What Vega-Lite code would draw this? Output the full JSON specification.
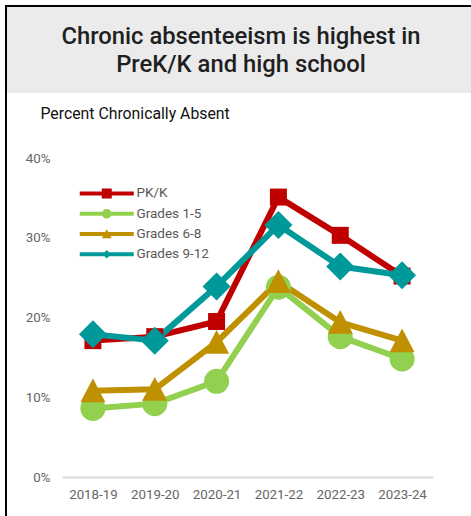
{
  "$schema": "https://vega.github.io/schema/vega-lite/v6.json",
  "padding": {"left": 5, "top": 5, "right": 0, "bottom": 0},
  "background": "white",
  "spacing": 0,
  "config": {"view": {"stroke": null}, "font": "Roboto", "concat": {"spacing": 0}},
  "resolve": {"legend": {"color": "independent"}},
  "vconcat": [
    {
      "width": 466, "height": 2,
      "view": {"fill": "black", "stroke": null},
      "data": {"values": [{"a": 1}]},
      "mark": {"type": "point", "opacity": 0, "size": 0}
    },
    {
      "spacing": 0,
      "resolve": {"legend": {"color": "independent"}},
      "hconcat": [
        {
          "width": 2, "height": 509,
          "view": {"fill": "black", "stroke": null},
          "data": {"values": [{"a": 1}]},
          "mark": {"type": "point", "opacity": 0, "size": 0}
        },
        {
          "spacing": 12,
          "resolve": {"legend": {"color": "independent"}},
          "vconcat": [
            {
              "width": 464, "height": 86,
              "view": {"fill": "#ebebeb", "stroke": null},
              "data": {"values": [{"a": 1}]},
              "mark": {
                "type": "text",
                "text": ["Chronic absenteeism is highest in", "PreK/K and high school"],
                "font": "Roboto", "fontSize": 23.8, "fontWeight": 500,
                "lineHeight": 28, "align": "center", "baseline": "middle", "dy": -13, "dx": 2,
                "color": "#1f1f1f"
              }
            },
            {
              "width": 464, "height": 319,
              "data": {"values": [
                {"year": "2018-19", "series": "PK/K", "value": 0.171},
                {"year": "2019-20", "series": "PK/K", "value": 0.176},
                {"year": "2020-21", "series": "PK/K", "value": 0.195},
                {"year": "2021-22", "series": "PK/K", "value": 0.351},
                {"year": "2022-23", "series": "PK/K", "value": 0.303},
                {"year": "2023-24", "series": "PK/K", "value": 0.252},
                {"year": "2018-19", "series": "Grades 1-5", "value": 0.086},
                {"year": "2019-20", "series": "Grades 1-5", "value": 0.092},
                {"year": "2020-21", "series": "Grades 1-5", "value": 0.120},
                {"year": "2021-22", "series": "Grades 1-5", "value": 0.238},
                {"year": "2022-23", "series": "Grades 1-5", "value": 0.176},
                {"year": "2023-24", "series": "Grades 1-5", "value": 0.148},
                {"year": "2018-19", "series": "Grades 6-8", "value": 0.108},
                {"year": "2019-20", "series": "Grades 6-8", "value": 0.110},
                {"year": "2020-21", "series": "Grades 6-8", "value": 0.169},
                {"year": "2021-22", "series": "Grades 6-8", "value": 0.245},
                {"year": "2022-23", "series": "Grades 6-8", "value": 0.194},
                {"year": "2023-24", "series": "Grades 6-8", "value": 0.171},
                {"year": "2018-19", "series": "Grades 9-12", "value": 0.179},
                {"year": "2019-20", "series": "Grades 9-12", "value": 0.171},
                {"year": "2020-21", "series": "Grades 9-12", "value": 0.239},
                {"year": "2021-22", "series": "Grades 9-12", "value": 0.316},
                {"year": "2022-23", "series": "Grades 9-12", "value": 0.264},
                {"year": "2023-24", "series": "Grades 9-12", "value": 0.253}
              ]},
              "encoding": {
                "x": {
                  "field": "year", "type": "ordinal",
                  "scale": {"type": "point", "padding": 0.5, "range": [55, 426]},
                  "axis": {
                    "labelAngle": 0, "ticks": false,
                    "domainColor": "#d9d9d9", "domainWidth": 2,
                    "labelPadding": 10, "labelFontSize": 13.3, "labelColor": "#666666",
                    "labelFont": "Roboto", "title": null
                  }
                },
                "y": {
                  "field": "value", "type": "quantitative",
                  "scale": {"domain": [0, 0.4], "nice": false},
                  "axis": {
                    "offset": -55,
                    "values": [0, 0.1, 0.2, 0.3, 0.4], "format": ".0%",
                    "domain": false, "ticks": false, "grid": false,
                    "labelPadding": 12, "labelFontSize": 13.3, "labelColor": "#666666",
                    "labelFont": "Roboto",
                    "title": "Percent Chronically Absent", "titleAngle": 0,
                    "titleAlign": "left", "titleBaseline": "alphabetic",
                    "titleX": -22, "titleY": -40, "titleFontSize": 15.8,
                    "titleFontWeight": "normal", "titleColor": "#111111", "titleFont": "Roboto"
                  }
                }
              },
              "layer": [
                {
                  "mark": {"type": "line", "strokeWidth": 6, "strokeCap": "round", "strokeJoin": "round"},
                  "encoding": {
                    "color": {
                      "field": "series", "type": "nominal",
                      "scale": {
                        "domain": ["PK/K", "Grades 1-5", "Grades 6-8", "Grades 9-12"],
                        "range": ["#c00000", "#92d050", "#bf9000", "#009999"]
                      },
                      "legend": {
                        "orient": "none", "legendX": 93, "legendY": 28.7,
                        "title": null, "padding": 0, "labelOffset": 23, "rowPadding": 5.3,
                        "symbolSize": 100, "labelFontSize": 13.5, "labelColor": "#595959",
                        "labelFont": "Roboto",
                        "encode": {
                          "symbols": {
                            "update": {
                              "shape": {"signal": "datum.value === 'PK/K' ? 'M-5.4,-0.4H5.4V0.4H-5.4Z M-1,-1H1V1H-1Z' : datum.value === 'Grades 1-5' ? 'M-5.4,-0.4H5.4V0.4H-5.4Z M-0.95,0A0.95,0.95 0 1,1 0.95,0A0.95,0.95 0 1,1 -0.95,0Z' : datum.value === 'Grades 6-8' ? 'M-5.4,-0.4H5.4V0.4H-5.4Z M0,-0.95L1,0.85L-1,0.85Z' : 'M-5.4,-0.4H5.4V0.4H-5.4Z M0,-0.85L0.85,0L0,0.85L-0.85,0Z'"},
                              "fill": {"signal": "datum.value === 'PK/K' ? '#c00000' : datum.value === 'Grades 1-5' ? '#92d050' : datum.value === 'Grades 6-8' ? '#bf9000' : '#009999'"},
                              "stroke": {"value": "transparent"},
                              "strokeWidth": {"value": 0},
                              "opacity": {"value": 1},
                              "fillOpacity": {"value": 1},
                              "size": {"value": 100}
                            }
                          }
                        }
                      }
                    }
                  }
                },
                {
                  "mark": {"type": "point", "filled": true, "opacity": 1, "size": 625, "strokeWidth": 0},
                  "encoding": {
                    "color": {
                      "field": "series", "type": "nominal",
                      "scale": {
                        "domain": ["PK/K", "Grades 1-5", "Grades 6-8", "Grades 9-12"],
                        "range": ["#c00000", "#92d050", "#bf9000", "#009999"]
                      },
                      "legend": null
                    },
                    "shape": {
                      "field": "series", "type": "nominal",
                      "scale": {
                        "domain": ["PK/K", "Grades 1-5", "Grades 6-8", "Grades 9-12"],
                        "range": ["M-0.68,-0.68H0.68V0.68H-0.68Z", "circle", "M0,-0.98L1,0.92L-1,0.92Z", "M0,-1.12L1.12,0L0,1.12L-1.12,0Z"]
                      },
                      "legend": null
                    }
                  }
                }
              ]
            }
          ]
        }
      ]
    }
  ]
}
